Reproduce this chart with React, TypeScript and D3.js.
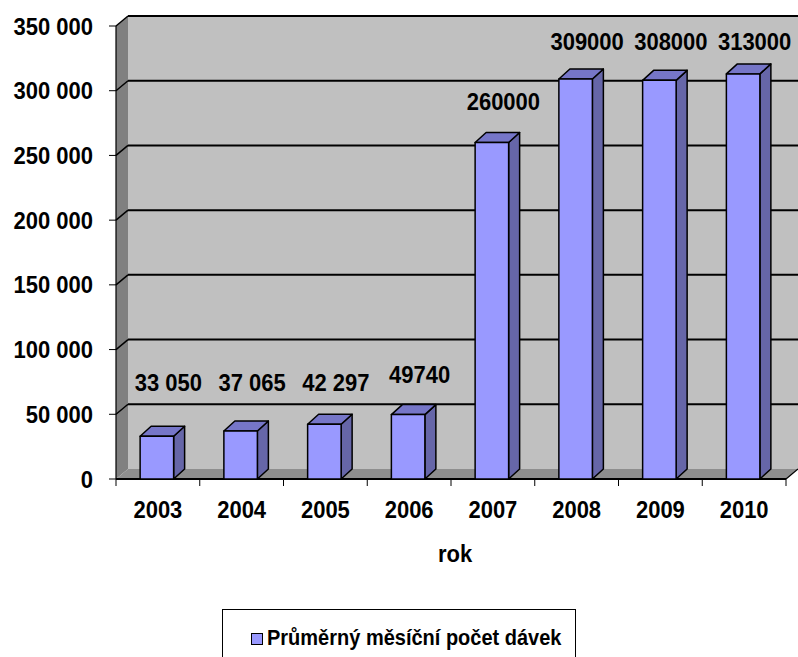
import React from "react";
import * as d3 from "d3";

const years = ["2003", "2004", "2005", "2006", "2007", "2008", "2009", "2010"];
const values = [33050, 37065, 42297, 49740, 260000, 309000, 308000, 313000];
const valueLabels = ["33 050", "37 065", "42 297", "49740", "260000", "309000", "308000", "313000"];
const yTicks = [0, 50000, 100000, 150000, 200000, 250000, 300000, 350000];
const seriesName = "Průměrný měsíční počet dávek";
const axisTitle = "rok";

const W = 798;
const H = 657;
const FONT = "'Liberation Sans', Arial, sans-serif";
const SY = 1.1;

type TProps = {
  x: number;
  y: number;
  size: number;
  anchor?: "start" | "middle" | "end";
  children: React.ReactNode;
};

function T({ x, y, size, anchor = "start", children }: TProps) {
  return (
    <text
      transform={`translate(${x},${y}) scale(1,${SY})`}
      textAnchor={anchor}
      fontFamily={FONT}
      fontWeight="bold"
      fontSize={size}
      fill="#000"
    >
      {children}
    </text>
  );
}

export default function App() {
  const left = 116;
  const right = 786;
  const bottom = 479;
  const top = 26;
  const dx = 12;
  const dy = -10;
  const bdx = 11;
  const bdy = -10;

  const x = d3.scaleBand<string>().domain(years).range([left, right]).padding(0);
  const y = d3.scaleLinear().domain([0, 350000]).range([bottom, top]);
  const bw = x.bandwidth();
  const barW = bw * 0.4;

  const fmt = (v: number) => d3.format(",")(v).replace(/,/g, " ");

  const ticksCat = d3.range(years.length + 1).map((i) => left + i * bw);

  return (
    <svg width={W} height={H} style={{ position: "absolute", left: 0, top: 0, background: "#fff" }}>
      {/* back wall */}
      <rect x={left + dx} y={top + dy} width={right - left} height={bottom - top} fill="#c0c0c0" />
      {/* side wall */}
      <polygon
        points={`${left},${top} ${left + dx},${top + dy} ${left + dx},${bottom + dy} ${left},${bottom}`}
        fill="#808080"
      />
      {/* floor */}
      <polygon
        points={`${left},${bottom} ${left + dx},${bottom + dy} ${right + dx},${bottom + dy} ${right},${bottom}`}
        fill="#8e8e8e"
      />
      {/* gridlines */}
      {yTicks.slice(1).map((t) => (
        <g key={t}>
          <line x1={left + dx} x2={right + dx} y1={y(t) + dy} y2={y(t) + dy} stroke="#000" strokeWidth={2} />
          <line x1={left} x2={left + dx} y1={y(t)} y2={y(t) + dy} stroke="#000" strokeWidth={1.5} />
        </g>
      ))}
      {/* left wall edge */}
      <line x1={left} x2={left} y1={top} y2={bottom} stroke="#000" strokeWidth={1.2} />
      <line x1={right} x2={right + dx} y1={bottom} y2={bottom + dy} stroke="#000" strokeWidth={1.2} />
      {/* y ticks */}
      {yTicks.map((t) => (
        <g key={"yt" + t}>
          <line x1={left - 7} x2={left} y1={y(t)} y2={y(t)} stroke="#000" strokeWidth={1} />
          <T x={93} y={y(t) + 8.5} size={22} anchor="end">
            {fmt(t)}
          </T>
        </g>
      ))}
      {/* x axis */}
      <line x1={left} x2={right} y1={bottom} y2={bottom} stroke="#000" strokeWidth={2} />
      {ticksCat.map((tx, i) => (
        <line key={"xt" + i} x1={tx} x2={tx} y1={bottom} y2={bottom + 7} stroke="#000" strokeWidth={1} />
      ))}
      {years.map((yr) => (
        <T key={"xl" + yr} x={(x(yr) as number) + bw / 2} y={518} size={22} anchor="middle">
          {yr}
        </T>
      ))}
      {/* bars */}
      {values.map((v, i) => {
        const x0 = (x(years[i]) as number) + (bw - barW) / 2 - 1;
        const x1 = x0 + barW;
        const yt = y(v);
        return (
          <g key={"b" + i} stroke="#000" strokeWidth={1.5} strokeLinejoin="round">
            <polygon
              points={`${x1},${yt} ${x1 + bdx},${yt + bdy} ${x1 + bdx},${bottom + bdy} ${x1},${bottom}`}
              fill="#6666a8"
            />
            <polygon
              points={`${x0},${yt} ${x0 + bdx},${yt + bdy} ${x1 + bdx},${yt + bdy} ${x1},${yt}`}
              fill="#7676c8"
            />
            <rect x={x0} y={yt} width={barW} height={bottom - yt} fill="#9999ff" />
          </g>
        );
      })}
      {/* value labels */}
      {values.map((v, i) => {
        const cx = (x(years[i]) as number) + bw / 2 + bdx / 2 + 5;
        const ly = Math.max(50, Math.min(y(v) - 32, 391));
        return (
          <T key={"vl" + i} x={cx} y={ly} size={22} anchor="middle">
            {valueLabels[i]}
          </T>
        );
      })}
      {/* axis title */}
      <T x={455} y={562} size={22} anchor="middle">
        {axisTitle}
      </T>
      {/* legend */}
      <rect x={222.5} y={609.5} width={353} height={60} fill="#fff" stroke="#000" strokeWidth={1} />
      <rect x={251.5} y={633.5} width={11} height={11} fill="#9999ff" stroke="#000" strokeWidth={1} />
      <T x={267} y={645} size={20}>
        {seriesName}
      </T>
    </svg>
  );
}
